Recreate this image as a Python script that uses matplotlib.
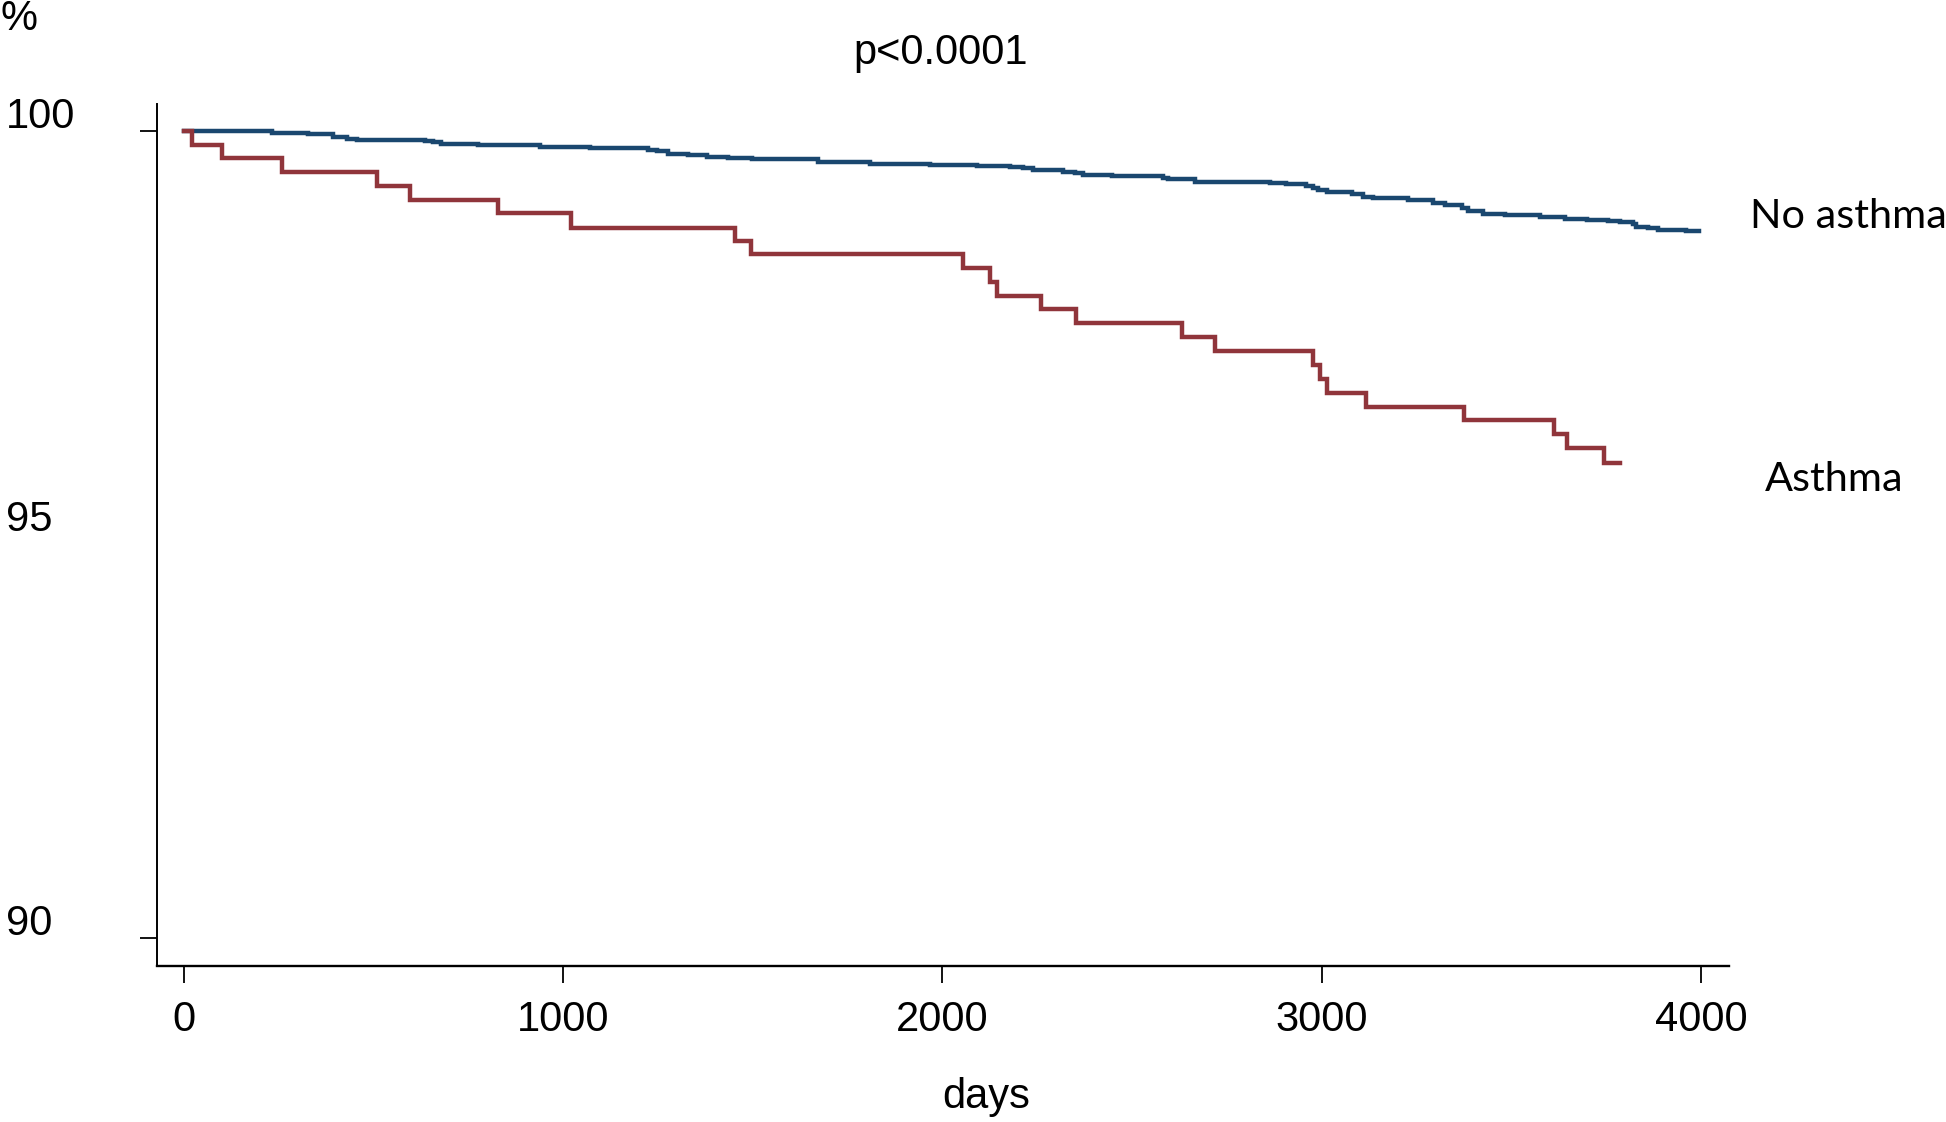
import matplotlib
matplotlib.use("Agg")
import matplotlib.pyplot as plt
import numpy as np

# ---- data ----
red_days = [0, 22, 101, 259, 508, 596, 829, 1020, 1453, 1495, 2053, 2125, 2145, 2260,
            2352, 2633, 2719, 2978, 2995, 3013, 3118, 3376, 3612, 3646, 3744, 3788]
red_surv = [100, 99.823, 99.658, 99.485, 99.319, 99.142, 98.977, 98.80, 98.638, 98.469,
            98.296, 98.13, 97.953, 97.79, 97.615, 97.45, 97.27, 97.10, 96.92, 96.756,
            96.575, 96.418, 96.245, 96.067, 95.89, 95.89]

blue_days = [0, 231, 328, 394, 429, 455, 635, 657, 679, 776, 939, 1071, 1167, 1224, 1246,
             1277, 1330, 1378, 1435, 1497, 1673, 1809, 1967, 2090, 2178, 2213, 2239, 2319,
             2349, 2371, 2446, 2582, 2595, 2666, 2864, 2907, 2960, 2978, 2991, 3013, 3079,
             3110, 3136, 3228, 3294, 3325, 3369, 3387, 3426, 3483, 3576, 3642, 3699, 3756,
             3787, 3822, 3830, 3861, 3887, 3961, 3994]
blue_surv = [99.99, 99.97, 99.96, 99.92, 99.90, 99.89, 99.87, 99.856, 99.84, 99.82, 99.80,
             99.79, 99.78, 99.76, 99.745, 99.71, 99.695, 99.674, 99.658, 99.645, 99.609,
             99.59, 99.575, 99.563, 99.547, 99.534, 99.51, 99.49, 99.476, 99.45, 99.435,
             99.418, 99.398, 99.37, 99.352, 99.34, 99.315, 99.295, 99.262, 99.237, 99.21,
             99.18, 99.16, 99.142, 99.10, 99.08, 99.04, 99.006, 98.969, 98.952, 98.935,
             98.91, 98.894, 98.88, 98.866, 98.84, 98.81, 98.79, 98.774, 98.762, 98.762]

x_ticks = [0, 1000, 2000, 3000, 4000]
x_tick_labels = ["0", "1000", "2000", "3000", "4000"]
y_ticks = [90, 95, 100]
y_tick_labels = ["90", "95", "100"]
series_labels = ["No asthma", "Asthma"]

# ---- figure ----
W, H, DPI = 1946, 1122, 100
plt.rcParams['font.family'] = ['Liberation Sans', 'DejaVu Sans']
fig = plt.figure(figsize=(W / DPI, H / DPI), dpi=DPI)

def fx(px):
    return px / W

def fy(py):
    return 1 - py / H

ax = fig.add_axes([fx(156.7), fy(965.7), fx(1729.3) - fx(156.7), fy(104) - fy(965.7)])

navy = "#1A476F"
maroon = "#90353B"
lw = 3.2
fs = 30

ax.step(blue_days, blue_surv, where="post", color=navy, lw=lw, solid_joinstyle="miter")
ax.step(red_days, red_surv, where="post", color=maroon, lw=lw, solid_joinstyle="miter")

ax.set_xlim(-72, 4075)
ax.set_ylim(89.66, 100.33)

for s in ["top", "right"]:
    ax.spines[s].set_visible(False)
ax.spines["left"].set_linewidth(1.4)
ax.spines["bottom"].set_linewidth(1.7)

ax.set_xticks(x_ticks)
ax.set_xticklabels(x_tick_labels, fontsize=fs)
ax.tick_params(axis="x", length=12.5, width=1.3, pad=12, colors="black")

ax.set_yticks([90, 100])
ax.set_yticklabels([])
ax.tick_params(axis="y", length=12.5, width=1.3)

# y tick labels: left aligned, slightly above the tick position
for v, lab in zip(y_ticks, y_tick_labels):
    ax.annotate(lab, xy=(fx(6), v), xycoords=("figure fraction", "data"),
                xytext=(0, 14), textcoords="offset pixels",
                ha="left", va="center", fontsize=fs)

fig.text(fx(0), fy(19), "%", ha="left", va="center", fontsize=fs)
fig.text(fx(940.7), fy(53), "p<0.0001", ha="center", va="center", fontsize=fs)
fig.text(fx(986.6), fy(1097), "days", ha="center", va="center", fontsize=fs)
fig.text(fx(1750), fy(217), series_labels[0], ha="left", va="center", fontsize=29.8,
         family=["Lato", "DejaVu Sans"])
fig.text(fx(1765), fy(480), series_labels[1], ha="left", va="center", fontsize=29.8,
         family=["Lato", "DejaVu Sans"])

fig.savefig("out.png", dpi=DPI, facecolor="white")
